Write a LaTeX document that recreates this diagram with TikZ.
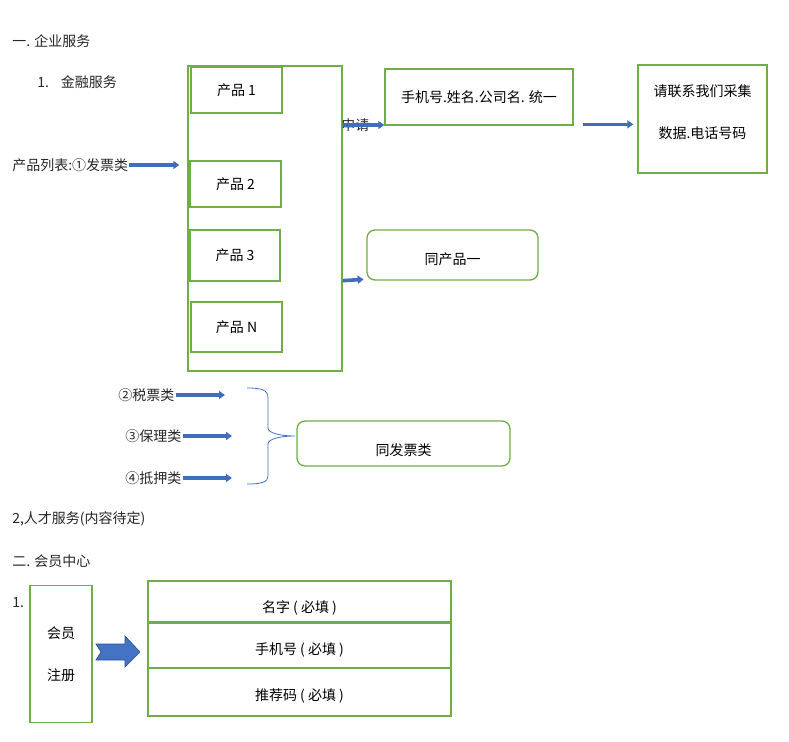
\documentclass[tikz,border=0pt]{standalone}
\usepackage{fontspec}
\setmainfont{Noto Sans CJK SC}
\usetikzlibrary{arrows.meta}
\definecolor{boxgreen}{RGB}{112,173,71}
\definecolor{flowblue}{RGB}{68,114,196}
\definecolor{edgeblue}{RGB}{47,82,143}
\tikzset{
  greenbox/.style={draw=boxgreen, line width=1pt, inner sep=0pt},
  roundbox/.style={greenbox, rounded corners=6pt},
  flow/.style={draw=flowblue!85!edgeblue, line width=2.7pt, -{Triangle[length=4.5pt,width=6pt]}},
  txt/.style={anchor=west, inner sep=0.75pt, text=black!85},
}
\begin{document}
\begin{tikzpicture}[x=0.75pt,y=0.75pt,yscale=-1,xscale=1,
  font=\fontsize{10.5}{12}\selectfont]
\useasboundingbox (0,0) rectangle (789,742);

% Text Node
\node[txt] (sec1) at (11,41) {一. 企业服务};
\node[txt] (fin) at (36,82) {1.\hspace{0.85em}金融服务};
\node[txt] (list) at (11,165) {产品列表:①发票类};

% products
\node[greenbox, minimum width=115.5pt, minimum height=228.75pt] (big) at (265,218.5) {};
\node[greenbox, minimum width=68.25pt, minimum height=34.5pt] (p1) at (236.5,90) {产品 1};
\node[greenbox, minimum width=68.25pt, minimum height=34.5pt] (p2) at (235.5,184) {产品 2};
\node[greenbox, minimum width=67.5pt, minimum height=38.25pt] (p3) at (235,255.5) {产品 3};
\node[greenbox, minimum width=68.25pt, minimum height=37.5pt] (pn) at (236.5,327) {产品 N};

\draw[flow, shorten >=6pt] (list.east) -- (list.east -| big.west);

% apply
\node[txt] (apply) at (340,125) {申请};
\node[greenbox, minimum width=141pt, minimum height=42pt] (info) at (479,97) {手机号.姓名.公司名. 统一};
\node[greenbox, minimum width=96.75pt, minimum height=81pt] (contact) at (702.5,119) {};
\node[align=center, font=\fontsize{10.5}{31.5}\selectfont] (contacttxt) at (702.5,112) {请联系我们采集\\数据.电话号码};
\draw[flow] (big.east |- apply.center) -- (info.west |- apply.center);
\draw[flow] ([xshift=6.75pt,yshift=-1pt]info.south east) -- ([xshift=-3pt,yshift=-1pt]contact.west |- info.south east);

\node[roundbox, minimum width=128.25pt, minimum height=37.5pt,
  label={[yshift=-3pt]center:同产品一}] (same1) at (452.5,255) {};
\draw[flow] (big.east |- same1.south) -- ([xshift=-2pt,yshift=-1pt]same1.south west);

% other kinds
\node[txt] (tax) at (117,395) {②税票类};
\node[txt] (fact) at (124,436) {③保理类};
\node[txt] (mort) at (124,478) {④抵押类};
\draw[flow] (tax.east) -- (225,395);
\draw[flow] (fact.east) -- (232,436);
\draw[flow] (mort.east) -- (232,478);
\draw[flowblue, line width=0.6pt] (247,388) .. controls (262,388) and (268,390) .. (268,398) -- (268,428) .. controls (268,433) and (280,436) .. (295,436) .. controls (280,436) and (268,439) .. (268,444) -- (268,476) .. controls (268,482) and (262,484) .. (247,484);
\node[roundbox, minimum width=159.75pt, minimum height=33.75pt,
  label={[yshift=-5pt]center:同发票类}] (same2) at (403.5,443.5) {};

\node[txt] (talent) at (11,519) {2,人才服务(内容待定)};
\node[txt] (sec2) at (11,561) {二. 会员中心};
\node[txt] (one) at (11,603) {1.};

% member
\node[greenbox, minimum width=46.5pt, minimum height=102.75pt, align=center,
  font=\fontsize{10.5}{31.5}\selectfont] (reg) at (61,654) {会员\\注册};
\draw[draw=edgeblue, fill=flowblue, line width=0.5pt] (96,644) -- (125,644) -- (125,636) -- (140,652) -- (125,667) -- (125,660) -- (96,660) -- (101,652) -- cycle;
\node[greenbox, minimum width=227.25pt, minimum height=30.75pt,
  label={[yshift=-4.5pt]center:名字 ( 必填 )}] (name) at (299.5,601.5) {};
\node[greenbox, minimum width=227.25pt, minimum height=33.75pt,
  label={[yshift=-3.5pt]center:手机号 ( 必填 )}] (phone) at (299.5,645.5) {};
\node[greenbox, minimum width=227.25pt, minimum height=36pt,
  label={[yshift=-3pt]center:推荐码 ( 必填 )}] (code) at (299.5,692) {};

\end{tikzpicture}
\end{document}
